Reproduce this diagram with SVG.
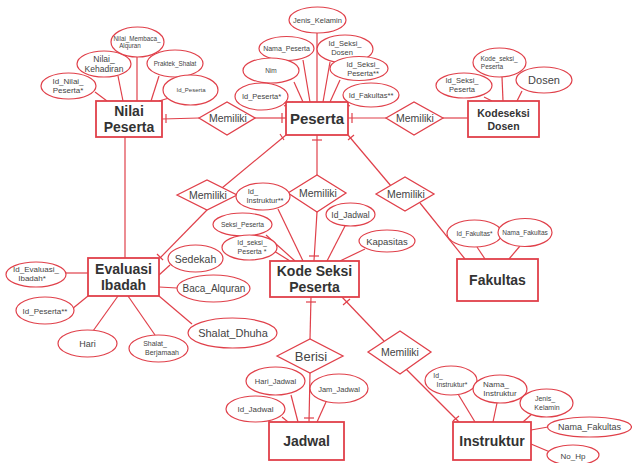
<svg xmlns="http://www.w3.org/2000/svg" width="632" height="463" viewBox="0 0 632 463">
<style>
  .ent { fill: #ffffff; stroke: #e0404a; stroke-width: 1.8; }
  .attr { fill: #ffffff; stroke: #e0404a; stroke-width: 1.2; }
  .rel { fill: #ffffff; stroke: #e0404a; stroke-width: 1.3; }
  .ln { stroke: #e0404a; stroke-width: 1.2; fill: none; }
  text { font-family: "Liberation Sans", Arial, sans-serif; fill: #444444; text-anchor: middle; }
  .et { font-weight: bold; fill: #333333; font-size: 14px; }
  .rt { font-size: 10.5px; }
</style>

<!-- connectors -->
<g id="connectors" class="ln">
  <!-- Nilai Peserta - Memiliki - Peserta -->
  <line x1="162" y1="119" x2="199" y2="118"/>
  <line x1="166" y1="114" x2="166" y2="123"/>
  <line x1="255" y1="118" x2="286" y2="118"/>
  <line x1="282" y1="113" x2="282" y2="123"/>
  <!-- Peserta - Memiliki - Kodeseksi Dosen -->
  <line x1="348" y1="118" x2="386" y2="118"/>
  <line x1="352" y1="113" x2="352" y2="123"/>
  <line x1="443" y1="118" x2="468" y2="118"/>
  <!-- Nilai Peserta - Evaluasi Ibadah -->
  <line x1="125" y1="137" x2="125" y2="258"/>
  <!-- Peserta - Memiliki (left) - Evaluasi Ibadah -->
  <line x1="222" y1="188" x2="286" y2="135"/>
  <line x1="280" y1="134" x2="284" y2="140"/>
  <line x1="207" y1="210" x2="160" y2="258"/>
  <line x1="157" y1="254" x2="163" y2="260"/>
  <!-- Peserta - Memiliki (middle) - Kode Seksi Peserta -->
  <line x1="317" y1="135" x2="317" y2="175"/>
  <line x1="312" y1="140" x2="322" y2="140"/>
  <line x1="317" y1="212" x2="314" y2="261"/>
  <line x1="309" y1="256" x2="319" y2="256"/>
  <!-- Peserta - Memiliki (right) - Fakultas -->
  <line x1="391" y1="186" x2="348" y2="135"/>
  <line x1="348" y1="140" x2="354" y2="135"/>
  <line x1="420" y1="203" x2="465" y2="259"/>
  <!-- Kode Seksi Peserta - Berisi - Jadwal -->
  <line x1="311" y1="297" x2="310" y2="339"/>
  <line x1="306" y1="302" x2="316" y2="302"/>
  <line x1="310" y1="373" x2="309" y2="422"/>
  <line x1="304" y1="418" x2="314" y2="418"/>
  <!-- Kode Seksi Peserta - Memiliki - Instruktur -->
  <line x1="342" y1="297" x2="384" y2="341"/>
  <line x1="343" y1="305" x2="350" y2="299"/>
  <line x1="404" y1="367" x2="459" y2="422"/>
  <line x1="453" y1="421" x2="459" y2="416"/>

  <!-- attribute links: Nilai Peserta -->
  <line x1="95" y1="92" x2="107" y2="101"/>
  <line x1="118" y1="76" x2="123" y2="101"/>
  <line x1="137" y1="57" x2="137" y2="101"/>
  <line x1="159" y1="76" x2="151" y2="101"/>
  <line x1="169" y1="98" x2="159" y2="101"/>
  <!-- attribute links: Peserta -->
  <line x1="317" y1="33" x2="317" y2="102"/>
  <line x1="303" y1="60" x2="310" y2="102"/>
  <line x1="330" y1="62" x2="323" y2="102"/>
  <line x1="294" y1="82" x2="303" y2="102"/>
  <line x1="340" y1="80" x2="330" y2="102"/>
  <line x1="284" y1="106" x2="293" y2="102"/>
  <line x1="350" y1="106" x2="340" y2="102"/>
  <!-- attribute links: Kodeseksi Dosen -->
  <line x1="484" y1="97" x2="492" y2="101"/>
  <line x1="502" y1="77" x2="503" y2="101"/>
  <line x1="522" y1="91" x2="517" y2="101"/>
  <!-- attribute links: Kode Seksi Peserta -->
  <line x1="278" y1="209" x2="303" y2="261"/>
  <line x1="266" y1="235" x2="295" y2="261"/>
  <line x1="274" y1="251" x2="290" y2="261"/>
  <line x1="345" y1="226" x2="327" y2="261"/>
  <line x1="365" y1="249" x2="340" y2="261"/>
  <!-- attribute links: Evaluasi Ibadah -->
  <line x1="66" y1="273" x2="88" y2="273"/>
  <line x1="72" y1="309" x2="88" y2="296"/>
  <line x1="93" y1="331" x2="118" y2="296"/>
  <line x1="155" y1="335" x2="128" y2="296"/>
  <line x1="192" y1="324" x2="159" y2="296"/>
  <line x1="170" y1="265" x2="159" y2="275"/>
  <line x1="177" y1="288" x2="159" y2="287"/>
  <!-- attribute links: Fakultas -->
  <line x1="477" y1="247" x2="485" y2="259"/>
  <line x1="520" y1="246" x2="509" y2="259"/>
  <!-- attribute links: Jadwal -->
  <line x1="291" y1="395" x2="298" y2="422"/>
  <line x1="282" y1="417" x2="288" y2="422"/>
  <line x1="326" y1="402" x2="317" y2="422"/>
  <!-- attribute links: Instruktur -->
  <line x1="458" y1="394" x2="475" y2="422"/>
  <line x1="497" y1="403" x2="493" y2="422"/>
  <line x1="533" y1="413" x2="523" y2="422"/>
  <line x1="548" y1="427" x2="531" y2="430"/>
  <line x1="550" y1="452" x2="531" y2="444"/>
</g>

<!-- relationships -->
<g id="rel-nilai-peserta">
  <polygon class="rel" points="199,118 227,102 255,118 227,135"/>
  <text class="rt" x="228" y="122">Memiliki</text>
</g>
<g id="rel-peserta-kodeseksi">
  <polygon class="rel" points="386,118 414,102 443,118 414,135"/>
  <text class="rt" x="415" y="122">Memiliki</text>
</g>
<g id="rel-peserta-evaluasi">
  <polygon class="rel" points="177,195 207,180 237,195 207,210"/>
  <text class="rt" x="208" y="199">Memiliki</text>
</g>
<g id="rel-peserta-kodeseksipeserta">
  <polygon class="rel" points="288,193 317,175 346,193 317,212"/>
  <text class="rt" x="318" y="197">Memiliki</text>
</g>
<g id="rel-peserta-fakultas">
  <polygon class="rel" points="376,194 405,177 434,194 405,211"/>
  <text class="rt" x="406" y="198">Memiliki</text>
</g>
<g id="rel-berisi">
  <polygon class="rel" points="277,356 310,339 343,356 310,373"/>
  <text x="311" y="361" style="font-size:13px">Berisi</text>
</g>
<g id="rel-kodeseksi-instruktur">
  <polygon class="rel" points="368,352 400,331 431,352 400,374"/>
  <text class="rt" x="400" y="356">Memiliki</text>
</g>

<!-- entities -->
<g id="nilai-peserta">
  <rect class="ent" x="96" y="101" width="66" height="36"/>
  <text class="et" x="129" y="116">Nilai</text>
  <text class="et" x="129" y="132">Peserta</text>
</g>
<g id="peserta">
  <rect class="ent" x="286" y="102" width="62" height="33"/>
  <text class="et" x="317" y="124" style="font-size:15px">Peserta</text>
</g>
<g id="kodeseksi-dosen">
  <rect class="ent" x="468" y="101" width="71" height="36"/>
  <text class="et" x="503.5" y="117" style="font-size:10.5px">Kodeseksi</text>
  <text class="et" x="503.5" y="130" style="font-size:10.5px">Dosen</text>
</g>
<g id="kode-seksi-peserta">
  <rect class="ent" x="270" y="261" width="89" height="36"/>
  <text class="et" x="314.5" y="276">Kode Seksi</text>
  <text class="et" x="314.5" y="292">Peserta</text>
</g>
<g id="evaluasi-ibadah">
  <rect class="ent" x="88" y="258" width="71" height="38"/>
  <text class="et" x="123.5" y="274">Evaluasi</text>
  <text class="et" x="123.5" y="290">Ibadah</text>
</g>
<g id="fakultas">
  <rect class="ent" x="457" y="259" width="81" height="42"/>
  <text class="et" x="497.5" y="285">Fakultas</text>
</g>
<g id="jadwal">
  <rect class="ent" x="269" y="422" width="75" height="38"/>
  <text class="et" x="306.5" y="446">Jadwal</text>
</g>
<g id="instruktur">
  <rect class="ent" x="453" y="422" width="78" height="38"/>
  <text class="et" x="492" y="446">Instruktur</text>
</g>

<!-- attributes: Nilai Peserta -->
<g id="attr-id-nilai-peserta">
  <ellipse class="attr" cx="68.5" cy="86" rx="27.5" ry="13"/>
  <text x="68" y="84" style="font-size:8px">Id_Nilai_</text>
  <text x="68" y="93" style="font-size:8px">Peserta*</text>
</g>
<g id="attr-nilai-kehadiran">
  <ellipse class="attr" cx="104" cy="64" rx="27" ry="13"/>
  <text x="104" y="62" style="font-size:8.5px">Nilai_</text>
  <text x="104" y="72" style="font-size:8.5px">Kehadiran</text>
</g>
<g id="attr-nilai-membaca">
  <ellipse class="attr" cx="137.5" cy="42" rx="26.5" ry="15"/>
  <text x="137" y="41" style="font-size:6.3px">Nilai_Membaca_</text>
  <text x="130" y="48" style="font-size:6.3px">Alquran</text>
</g>
<g id="attr-praktek-shalat">
  <ellipse class="attr" cx="175" cy="63.5" rx="28" ry="13.5"/>
  <text x="175" y="66" style="font-size:6.3px">Praktek_Shalat</text>
</g>
<g id="attr-id-peserta-np">
  <ellipse class="attr" cx="190.5" cy="90" rx="27.5" ry="15"/>
  <text x="191" y="92" style="font-size:6px">Id_Peserta</text>
</g>

<!-- attributes: Peserta -->
<g id="attr-jenis-kelamin">
  <ellipse class="attr" cx="317.5" cy="20" rx="28.5" ry="13"/>
  <text x="317.5" y="23" style="font-size:7.5px">Jenis_Kelamin</text>
</g>
<g id="attr-nama-peserta">
  <ellipse class="attr" cx="286.5" cy="48.5" rx="27.5" ry="12"/>
  <text x="286.5" y="51" style="font-size:7px">Nama_Peserta</text>
</g>
<g id="attr-id-seksi-dosen">
  <ellipse class="attr" cx="345" cy="49" rx="28" ry="14"/>
  <text x="345" y="46" style="font-size:7.5px">Id_Seksi_</text>
  <text x="342" y="55" style="font-size:7.5px">Dosen</text>
</g>
<g id="attr-nim">
  <ellipse class="attr" cx="271" cy="70.5" rx="28" ry="12.5"/>
  <text x="271" y="73" style="font-size:6.5px">Nim</text>
</g>
<g id="attr-id-seksi-peserta">
  <ellipse class="attr" cx="359" cy="68.5" rx="29" ry="12"/>
  <text x="363" y="67" style="font-size:7.5px">Id_Seksi_</text>
  <text x="363" y="76" style="font-size:7.5px">Peserta**</text>
</g>
<g id="attr-id-peserta">
  <ellipse class="attr" cx="261.5" cy="96.5" rx="26.5" ry="13.5"/>
  <text x="261.5" y="99" style="font-size:7.5px">Id_Peserta*</text>
</g>
<g id="attr-id-fakultas">
  <ellipse class="attr" cx="371" cy="95" rx="28" ry="12"/>
  <text x="371" y="97.5" style="font-size:7.5px">Id_Fakultas**</text>
</g>

<!-- attributes: Kodeseksi Dosen -->
<g id="attr-kd-id-seksi-peserta">
  <ellipse class="attr" cx="464" cy="85.5" rx="28" ry="12.5"/>
  <text x="462" y="83" style="font-size:7.5px">Id_Seksi_</text>
  <text x="462" y="92" style="font-size:7.5px">Peserta</text>
</g>
<g id="attr-kode-seksi-peserta">
  <ellipse class="attr" cx="499.5" cy="62.5" rx="26.5" ry="14.5"/>
  <text x="499" y="61" style="font-size:6.5px">Kode_seksi_</text>
  <text x="492" y="69" style="font-size:6.5px">Peserta</text>
</g>
<g id="attr-dosen">
  <ellipse class="attr" cx="544" cy="80" rx="28" ry="13"/>
  <text x="544" y="84" style="font-size:11px">Dosen</text>
</g>

<!-- attributes: Kode Seksi Peserta -->
<g id="attr-id-instruktur2">
  <ellipse class="attr" cx="263" cy="196.5" rx="27" ry="13.5"/>
  <text x="253" y="194" style="font-size:7.5px">Id_</text>
  <text x="265" y="203" style="font-size:7.5px">Instruktur**</text>
</g>
<g id="attr-seksi-peserta">
  <ellipse class="attr" cx="242.5" cy="224.5" rx="29.5" ry="11.5"/>
  <text x="242.5" y="227" style="font-size:6.7px">Seksi_Peserta</text>
</g>
<g id="attr-id-seksi-peserta-ksp">
  <ellipse class="attr" cx="249.5" cy="247.5" rx="27.5" ry="12.5"/>
  <text x="252" y="245" style="font-size:7px">Id_seksi_</text>
  <text x="252" y="254" style="font-size:7px">Peserta *</text>
</g>
<g id="attr-id-jadwal-ksp">
  <ellipse class="attr" cx="350.5" cy="214.5" rx="24.5" ry="11.5"/>
  <text x="350.5" y="217.5" style="font-size:8.5px">Id_Jadwal</text>
</g>
<g id="attr-kapasitas">
  <ellipse class="attr" cx="387" cy="241" rx="28" ry="11"/>
  <text x="387" y="244.5" style="font-size:9.5px">Kapasitas</text>
</g>

<!-- attributes: Evaluasi Ibadah -->
<g id="attr-sedekah">
  <ellipse class="attr" cx="195.5" cy="258.5" rx="27.5" ry="13.5"/>
  <text x="195.5" y="262.5" style="font-size:10.5px">Sedekah</text>
</g>
<g id="attr-baca-alquran">
  <ellipse class="attr" cx="213.5" cy="288.5" rx="36.5" ry="13.5"/>
  <text x="214" y="292" style="font-size:10px">Baca_Alquran</text>
</g>
<g id="attr-id-evaluasi">
  <ellipse class="attr" cx="36" cy="274.5" rx="30" ry="12.5"/>
  <text x="36" y="272" style="font-size:8px">Id_Evaluasi_</text>
  <text x="32" y="281" style="font-size:8px">Ibadah*</text>
</g>
<g id="attr-id-peserta-ei">
  <ellipse class="attr" cx="45" cy="310.5" rx="29" ry="13.5"/>
  <text x="45" y="313.5" style="font-size:8px">Id_Peserta**</text>
</g>
<g id="attr-hari">
  <ellipse class="attr" cx="87.5" cy="343.5" rx="29.5" ry="13.5"/>
  <text x="87.5" y="347" style="font-size:9px">Hari</text>
</g>
<g id="attr-shalat-berjamaah">
  <ellipse class="attr" cx="158.5" cy="348.5" rx="29.5" ry="13.5"/>
  <text x="155" y="346" style="font-size:7px">Shalat_</text>
  <text x="162" y="355" style="font-size:7px">Berjamaah</text>
</g>
<g id="attr-shalat-dhuha">
  <ellipse class="attr" cx="232.5" cy="333" rx="44.5" ry="15"/>
  <text x="233" y="337" style="font-size:11px">Shalat_Dhuha</text>
</g>

<!-- attributes: Fakultas -->
<g id="attr-id-fakultas-f">
  <ellipse class="attr" cx="474.5" cy="233.5" rx="27.5" ry="13.5"/>
  <text x="474.5" y="236" style="font-size:6.5px">Id_Fakultas*</text>
</g>
<g id="attr-nama-fakultas-f">
  <ellipse class="attr" cx="525" cy="232.5" rx="27" ry="14"/>
  <text x="525" y="235" style="font-size:6.5px">Nama_Fakultas</text>
</g>

<!-- attributes: Jadwal -->
<g id="attr-hari-jadwal">
  <ellipse class="attr" cx="275.5" cy="381" rx="29.5" ry="14"/>
  <text x="275.5" y="384" style="font-size:7.5px">Hari_Jadwal</text>
</g>
<g id="attr-id-jadwal">
  <ellipse class="attr" cx="255.5" cy="409" rx="29.5" ry="13"/>
  <text x="255.5" y="412" style="font-size:8px">Id_Jadwal</text>
</g>
<g id="attr-jam-jadwal">
  <ellipse class="attr" cx="339" cy="388.5" rx="29" ry="14.5"/>
  <text x="339" y="391.5" style="font-size:7.5px">Jam_Jadwal</text>
</g>

<!-- attributes: Instruktur -->
<g id="attr-id-instruktur">
  <ellipse class="attr" cx="451" cy="380.5" rx="26" ry="14.5"/>
  <text x="438" y="378" style="font-size:6.8px">Id_</text>
  <text x="452" y="387" style="font-size:6.8px">Instruktur*</text>
</g>
<g id="attr-nama-instruktur">
  <ellipse class="attr" cx="500" cy="389" rx="27" ry="14"/>
  <text x="496" y="387" style="font-size:8px">Nama_</text>
  <text x="500" y="396" style="font-size:8px">Instruktur</text>
</g>
<g id="attr-jenis-kelamin-i">
  <ellipse class="attr" cx="546.5" cy="403" rx="26.5" ry="14"/>
  <text x="545" y="401" style="font-size:7px">Jenis_</text>
  <text x="547" y="410" style="font-size:7px">Kelamin</text>
</g>
<g id="attr-nama-fakultas-i">
  <ellipse class="attr" cx="589.5" cy="427" rx="42" ry="10"/>
  <text x="589.5" y="430" style="font-size:9px">Nama_Fakultas</text>
</g>
<g id="attr-no-hp">
  <ellipse class="attr" cx="573" cy="455" rx="26" ry="10"/>
  <text x="573" y="458.5" style="font-size:8px">No_Hp</text>
</g>
</svg>
